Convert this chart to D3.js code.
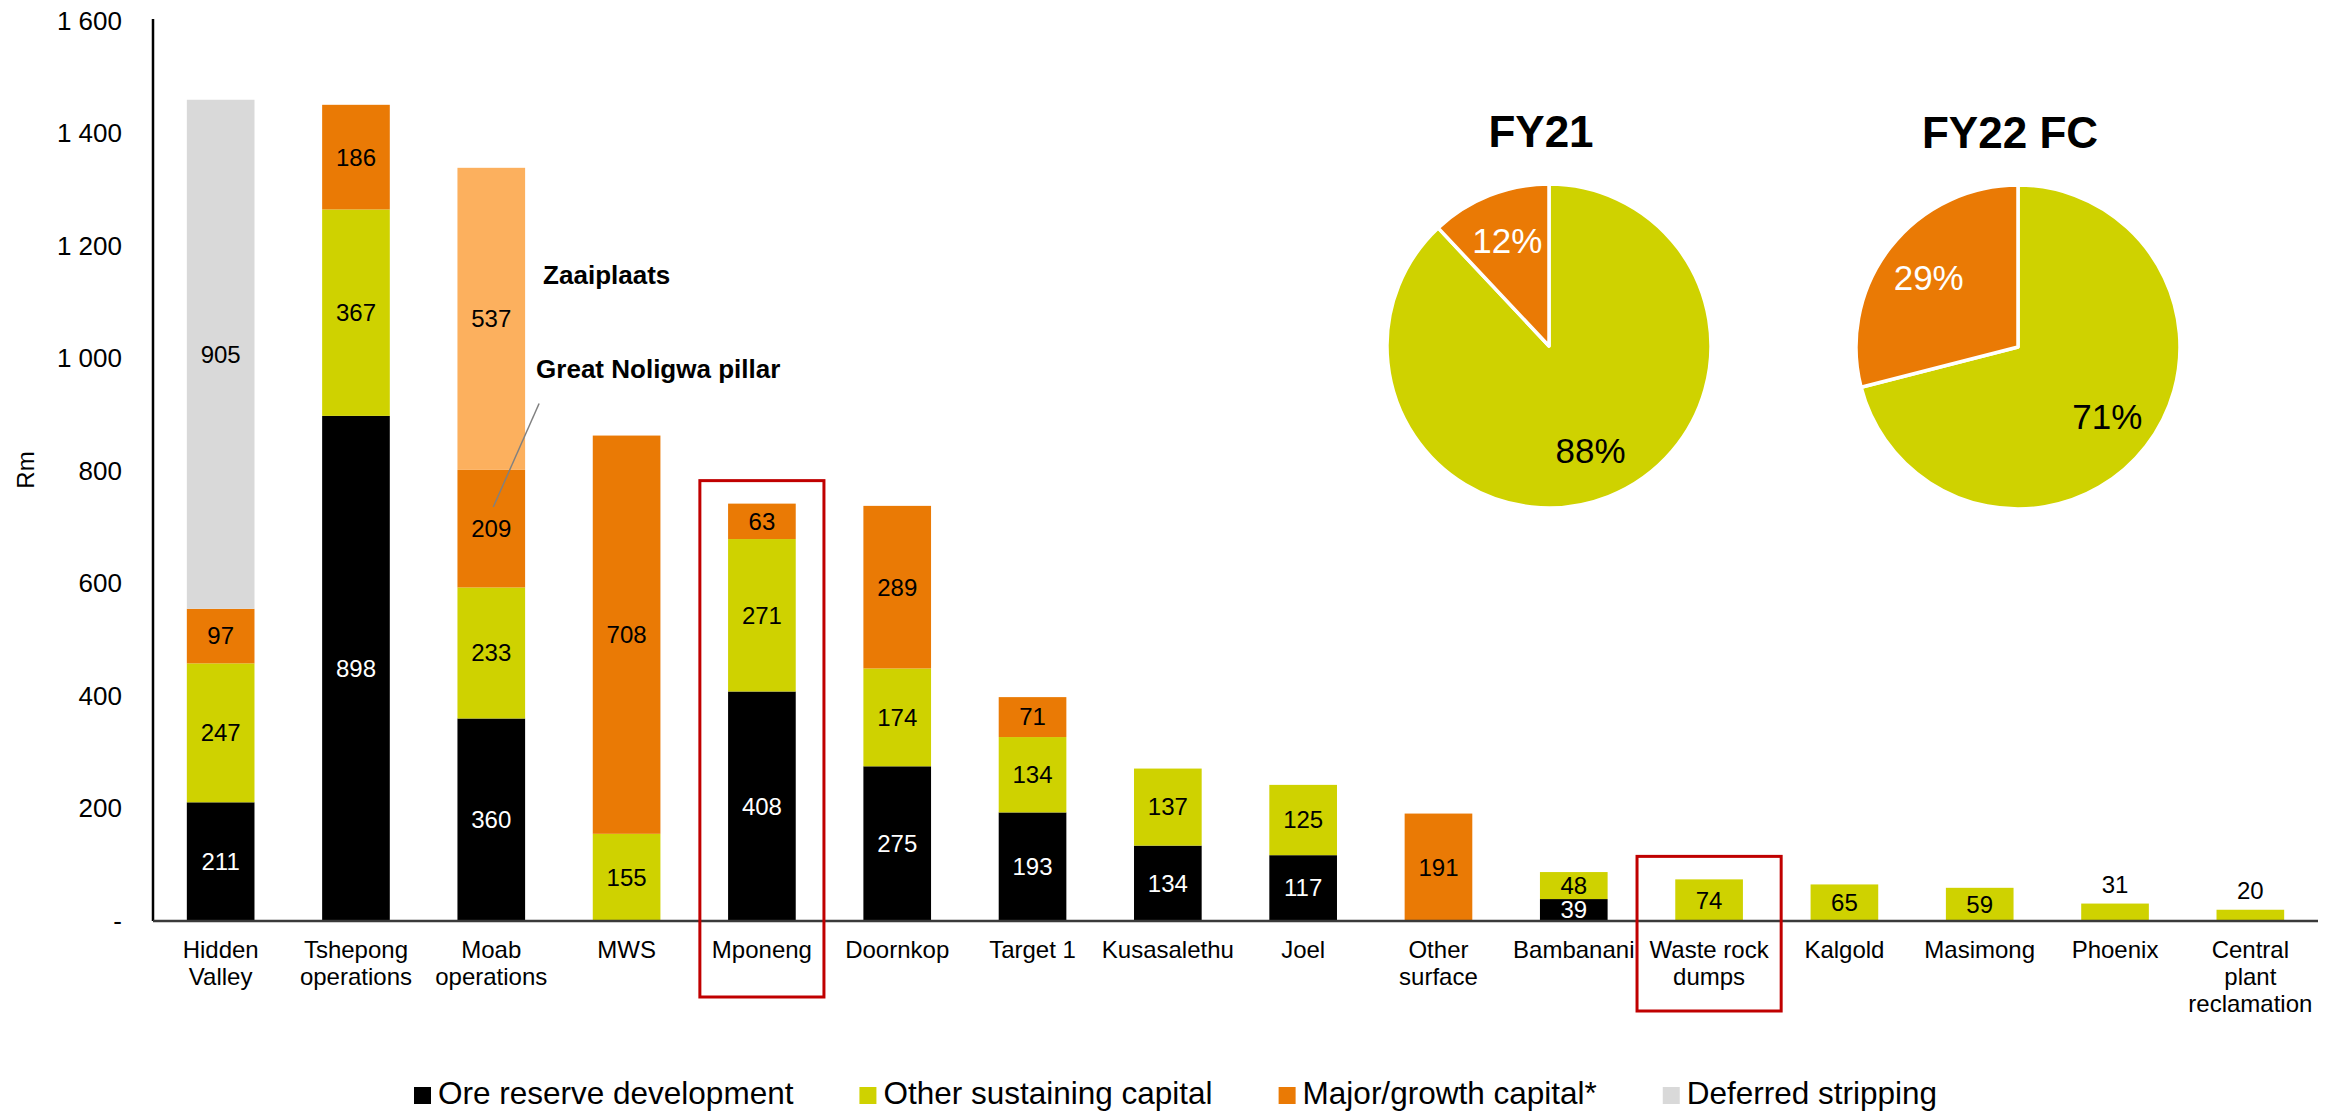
<!DOCTYPE html>
<html>
<head>
<meta charset="utf-8">
<script src="https://cdn.jsdelivr.net/npm/d3@7"></script>
<style>
  body { margin: 0; background: #fff; }
  text { font-family: "Liberation Sans", Arial, sans-serif; fill: #000; }
</style>
</head>
<body>
<div id="chart"></div>
<script>
const categories = [
  "Hidden\nValley", "Tshepong\noperations", "Moab\noperations", "MWS", "Mponeng",
  "Doornkop", "Target 1", "Kusasalethu", "Joel", "Other\nsurface", "Bambanani",
  "Waste rock\ndumps", "Kalgold", "Masimong", "Phoenix", "Central\nplant\nreclamation"
];
const oreReserve = [211, 898, 360, 0, 408, 275, 193, 134, 117, 0, 39, 0, 0, 0, 0, 0];
const otherSustaining = [247, 367, 233, 155, 271, 174, 134, 137, 125, 0, 48, 74, 65, 59, 31, 20];
const majorGrowth = [97, 186, 209, 708, 63, 289, 71, 0, 0, 191, 0, 0, 0, 0, 0, 0];
const zaaiplaats = [0, 0, 537, 0, 0, 0, 0, 0, 0, 0, 0, 0, 0, 0, 0, 0];
const deferredStripping = [905, 0, 0, 0, 0, 0, 0, 0, 0, 0, 0, 0, 0, 0, 0, 0];
const yTicks = [0, 200, 400, 600, 800, 1000, 1200, 1400, 1600];
const highlighted = ["Mponeng", "Waste rock\ndumps"];

const legendNames = ["Ore reserve development", "Other sustaining capital", "Major/growth capital*", "Deferred stripping"];
const pieTitles = ["FY21", "FY22 FC"];
const pieSustaining = [88, 71];
const pieGrowth = [12, 29];

const colors = {
  ore: "#000000",
  other: "#CFD200",
  major: "#EA7A05",
  zaai: "#FCB05E",
  deferred: "#D9D9D9"
};
const legendColors = [colors.ore, colors.other, colors.major, colors.deferred];

var table = categories.map((cat, i) => ({
  cat,
  ore: oreReserve[i],
  other: otherSustaining[i],
  major: majorGrowth[i],
  zaai: zaaiplaats[i],
  deferred: deferredStripping[i]
}));
table.forEach(d => { d.total = d.ore + d.other + d.major + d.zaai + d.deferred; });

const keys = ["ore", "other", "major", "zaai", "deferred"];
const stacked = d3.stack().keys(keys)(table);

const W = 2339, H = 1114;
const plot = { left: 153, right: 2318, top: 21, bottom: 921 };

var svg = d3.select("#chart").append("svg")
  .attr("width", W)
  .attr("height", H);

const x = d3.scaleBand()
  .domain(categories)
  .range([plot.left, plot.right])
  .paddingInner(0.5)
  .paddingOuter(0.25);

const y = d3.scaleLinear().domain([0, 1600]).range([plot.bottom, plot.top]);

const fmt = d3.formatLocale({ decimal: ".", thousands: " ", grouping: [3], currency: ["", ""] }).format(",");

// y axis
var yAxis = svg.append("g")
  .attr("transform", "translate(" + plot.left + ",0)")
  .call(d3.axisLeft(y).tickValues(yTicks).tickSize(0).tickPadding(31)
    .tickFormat(d => d === 0 ? "-" : fmt(d)));
yAxis.select(".domain").attr("stroke", "#000").attr("stroke-width", 2.5)
  .attr("d", "M0," + (plot.bottom) + "V" + (plot.top - 2));
yAxis.selectAll("text")
  .style("font-size", "26px")
  .style("font-family", "'Liberation Sans', Arial, sans-serif")
  .attr("fill", "#000");

svg.append("text")
  .attr("transform", "translate(34,470) rotate(-90)")
  .attr("text-anchor", "middle")
  .style("font-size", "24px")
  .text("Rm");

// bars
var layers = svg.selectAll(".layer")
  .data(stacked)
  .enter()
  .append("g")
  .attr("class", "layer")
  .attr("fill", d => colors[d.key]);

layers.selectAll("rect")
  .data(d => d.filter(s => s[1] - s[0] > 0))
  .enter()
  .append("rect")
  .attr("x", d => x(d.data.cat))
  .attr("width", x.bandwidth())
  .attr("y", d => y(d[1]))
  .attr("height", d => y(d[0]) - y(d[1]));

// x axis line
svg.append("line")
  .attr("x1", plot.left).attr("x2", plot.right)
  .attr("y1", plot.bottom).attr("y2", plot.bottom)
  .attr("stroke", "#3a3a3a")
  .attr("stroke-width", 2.5);

// value labels
layers.each(function(layer) {
  d3.select(this).selectAll("text")
    .data(layer.filter(s => s[1] - s[0] > 0))
    .enter()
    .append("text")
    .attr("x", d => x(d.data.cat) + x.bandwidth() / 2)
    .attr("y", function(d) {
      if (d.data.total < 35) return y(d[1]) - 11;
      return (y(d[0]) + y(d[1])) / 2;
    })
    .attr("dy", d => d.data.total < 35 ? 0 : "0.35em")
    .attr("text-anchor", "middle")
    .style("font-size", "24px")
    .style("fill", layer.key === "ore" ? "#fff" : "#000")
    .text(d => d[1] - d[0]);
});

// category labels
var catLabels = svg.selectAll(".cat")
  .data(categories)
  .enter()
  .append("text")
  .attr("class", "cat")
  .attr("x", d => x(d) + x.bandwidth() / 2)
  .attr("y", plot.bottom + 37)
  .attr("text-anchor", "middle")
  .style("font-size", "24px");

catLabels.selectAll("tspan")
  .data(d => d.split("\n"))
  .enter()
  .append("tspan")
  .attr("x", function() { return this.parentNode.getAttribute("x"); })
  .attr("dy", (d, i) => i ? 27 : 0)
  .text(d => d);

// highlight boxes
catLabels.filter(d => highlighted.indexOf(d) >= 0).each(function(d) {
  var bb = this.getBBox();
  var lines = d.split("\n").length;
  var cx = x(d) + x.bandwidth() / 2;
  var w = bb.width + 24;
  var row = table[categories.indexOf(d)];
  var top = y(row.total) - 23;
  var bottom = plot.bottom + 62 + 14 * lines;
  svg.append("rect")
    .attr("x", cx - w / 2)
    .attr("y", top)
    .attr("width", w)
    .attr("height", bottom - top)
    .attr("fill", "none")
    .attr("stroke", "#C00000")
    .attr("stroke-width", 3);
});

// annotations on Moab
var moabX = x("Moab\noperations");
svg.append("text")
  .attr("x", moabX + x.bandwidth() + 18)
  .attr("y", y(1133))
  .style("font-size", "26px")
  .style("font-weight", "bold")
  .text("Zaaiplaats");
svg.append("text")
  .attr("x", moabX + x.bandwidth() + 11)
  .attr("y", y(965))
  .style("font-size", "26px")
  .style("font-weight", "bold")
  .text("Great Noligwa pillar");
svg.append("line")
  .attr("x1", moabX + x.bandwidth() + 14)
  .attr("y1", y(920))
  .attr("x2", moabX + x.bandwidth() / 2 + 2)
  .attr("y2", y(736))
  .attr("stroke", "#808080")
  .attr("stroke-width", 1.5);

// legend
var lx = 414;
legendNames.forEach(function(name, i) {
  svg.append("rect")
    .attr("x", lx)
    .attr("y", 1087)
    .attr("width", 17)
    .attr("height", 17)
    .attr("fill", legendColors[i]);
  var t = svg.append("text")
    .attr("x", lx + 24)
    .attr("y", 1104)
    .style("font-size", "31.5px")
    .text(name);
  lx += 24 + t.node().getComputedTextLength() + 66;
});

// pies
const pieR = 162;
const pieCenters = [[1549, 346], [2018, 347]];
const pie = d3.pie().sort(null).value(d => d.value);
const arc = d3.arc().innerRadius(0).outerRadius(pieR);
const labelArc = d3.arc().innerRadius(113).outerRadius(113);

pieTitles.forEach(function(title, i) {
  var g = svg.append("g")
    .attr("transform", "translate(" + pieCenters[i][0] + "," + pieCenters[i][1] + ")");
  var slices = pie([
    { value: pieSustaining[i], color: colors.other, label: "#000" },
    { value: pieGrowth[i], color: colors.major, label: "#fff" }
  ]);
  g.selectAll("path")
    .data(slices)
    .enter()
    .append("path")
    .attr("d", arc)
    .attr("fill", d => d.data.color)
    .attr("stroke", "#fff")
    .attr("stroke-width", 3.5)
    .attr("stroke-linejoin", "round");
  g.selectAll(".pl")
    .data(slices)
    .enter()
    .append("text")
    .attr("class", "pl")
    .attr("transform", d => "translate(" + labelArc.centroid(d) + ")")
    .attr("dy", "0.35em")
    .attr("text-anchor", "middle")
    .style("font-size", "35px")
    .style("fill", d => d.data.label)
    .text(d => d.data.value + "%");
  g.append("text")
    .attr("x", -8)
    .attr("y", -199)
    .attr("text-anchor", "middle")
    .style("font-size", "44px")
    .style("font-weight", "bold")
    .text(title);
});
</script>
</body>
</html>
